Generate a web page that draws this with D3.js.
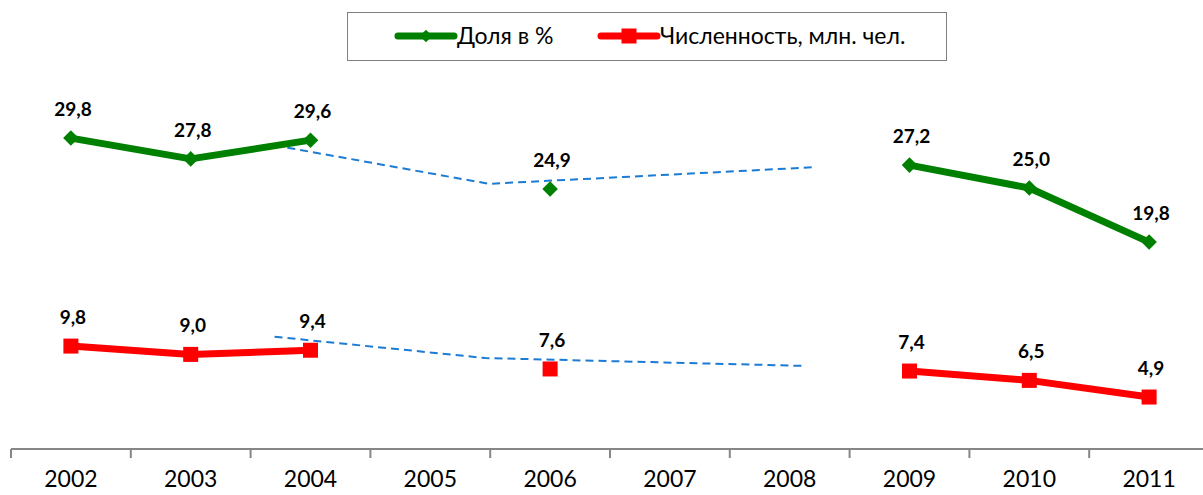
<!DOCTYPE html>
<meta charset="utf-8">
<style>
body { margin: 0; background: #fff; }
text { font-family: Lato, "Open Sans", sans-serif; }
.lbl { font-weight: bold; font-size: 19px; fill: #000; }
.tick-lbl { font-size: 23px; fill: #000; }
</style>
<body>
<script src="https://cdn.jsdelivr.net/npm/d3@7"></script>
<script>
var years = ["2002","2003","2004","2005","2006","2007","2008","2009","2010","2011"];
var share = [29.8, 27.8, 29.6, null, 24.9, null, null, 27.2, 25.0, 19.8];
var count = [9.8, 9.0, 9.4, null, 7.6, null, null, 7.4, 6.5, 4.9];

// dashed trend hints: [position in category units, value]
var shareTrend = [[2.20, 29.1], [3.99, 25.4], [6.71, 27.0]];
var countTrend = [[2.20, 10.7], [3.96, 8.65], [6.60, 7.9]];

var seriesNames = ["Доля в %", "Численность, млн. чел."];

var W = 1203, H = 495;
var svg = d3.select("body").append("svg")
    .attr("width", W)
    .attr("height", H);

// scales
var x = d3.scaleBand().domain(years).range([11, 1209]);
var xi = d3.scaleLinear().domain([0, years.length]).range([11, 1209]);
var y = d3.scaleLinear().domain([0, 40]).range([448, 32]);

// axis
svg.append("line")
    .attr("x1", 11).attr("x2", W)
    .attr("y1", 449).attr("y2", 449)
    .attr("stroke", "#868686").attr("stroke-width", 2);

svg.selectAll(".tk")
    .data(d3.range(years.length + 1))
  .enter().append("line")
    .attr("x1", function(i) { return xi(i); })
    .attr("x2", function(i) { return xi(i); })
    .attr("y1", 449).attr("y2", 458)
    .attr("stroke", "#868686").attr("stroke-width", 2);

svg.selectAll(".tick-lbl")
    .data(years)
  .enter().append("text")
    .attr("class", "tick-lbl")
    .attr("x", function(d) { return x(d) + x.bandwidth() / 2; })
    .attr("y", 487)
    .attr("text-anchor", "middle")
    .text(function(d) { return d; });

// dashed trend lines
var trendLine = d3.line()
    .x(function(d) { return xi(d[0]); })
    .y(function(d) { return y(d[1]); });

[shareTrend, countTrend].forEach(function(t) {
  svg.append("path")
      .attr("d", trendLine(t))
      .attr("fill", "none")
      .attr("stroke", "#1c7bd3")
      .attr("stroke-width", 2)
      .attr("stroke-linejoin", "round")
      .attr("stroke-dasharray", "8,5");
});

function cx(i) { return x(years[i]) + x.bandwidth() / 2; }

var line = d3.line()
    .defined(function(d) { return d != null; })
    .x(function(d, i) { return cx(i); })
    .y(function(d) { return y(d); });

function marker(g, shape, color, px, py, s) {
  var m = g.append("rect")
      .attr("x", -s / 2).attr("y", -s / 2)
      .attr("width", s).attr("height", s)
      .attr("fill", color);
  if (shape === "diamond") {
    m.attr("transform", "translate(" + px + "," + py + ") rotate(45)");
  } else {
    m.attr("transform", "translate(" + px + "," + py + ")");
  }
}

function drawSeries(vals, color, shape) {
  svg.append("path")
      .attr("d", line(vals))
      .attr("fill", "none")
      .attr("stroke", color)
      .attr("stroke-width", 7)
      .attr("stroke-linejoin", "round");

  var pts = vals.map(function(v, i) { return {v: v, i: i}; })
      .filter(function(d) { return d.v != null; });

  pts.forEach(function(d) {
    marker(svg, shape, color, cx(d.i), y(d.v), shape === "diamond" ? 11 : 15);
  });

  svg.selectAll(null)
      .data(pts)
    .enter().append("text")
      .attr("class", "lbl")
      .attr("x", function(d) { return cx(d.i) + 2; })
      .attr("y", function(d) { return y(d.v) - 22; })
      .attr("text-anchor", "middle")
      .text(function(d) { return d.v.toFixed(1).replace(".", ","); });
}

drawSeries(share, "#008000", "diamond");
drawSeries(count, "#ff0000", "square");

// legend
var lg = svg.append("g");
lg.append("rect")
    .attr("x", 347.5).attr("y", 12.5)
    .attr("width", 599).attr("height", 48)
    .attr("fill", "#fff")
    .attr("stroke", "#7f7f7f").attr("stroke-width", 1);

var legendItems = [
  {name: seriesNames[0], color: "#008000", shape: "diamond", x0: 398},
  {name: seriesNames[1], color: "#ff0000", shape: "square", x0: 601}
];
legendItems.forEach(function(d) {
  lg.append("line")
      .attr("x1", d.x0).attr("x2", d.x0 + 56)
      .attr("y1", 36).attr("y2", 36)
      .attr("stroke", d.color).attr("stroke-width", 7)
      .attr("stroke-linecap", "round");
  marker(lg, d.shape, d.color, d.x0 + 28, 36, d.shape === "diamond" ? 9 : 15);
  lg.append("text")
      .attr("x", d.x0 + 59).attr("y", 44)
      .attr("font-size", 23)
      .text(d.name);
});
</script>
</body>
